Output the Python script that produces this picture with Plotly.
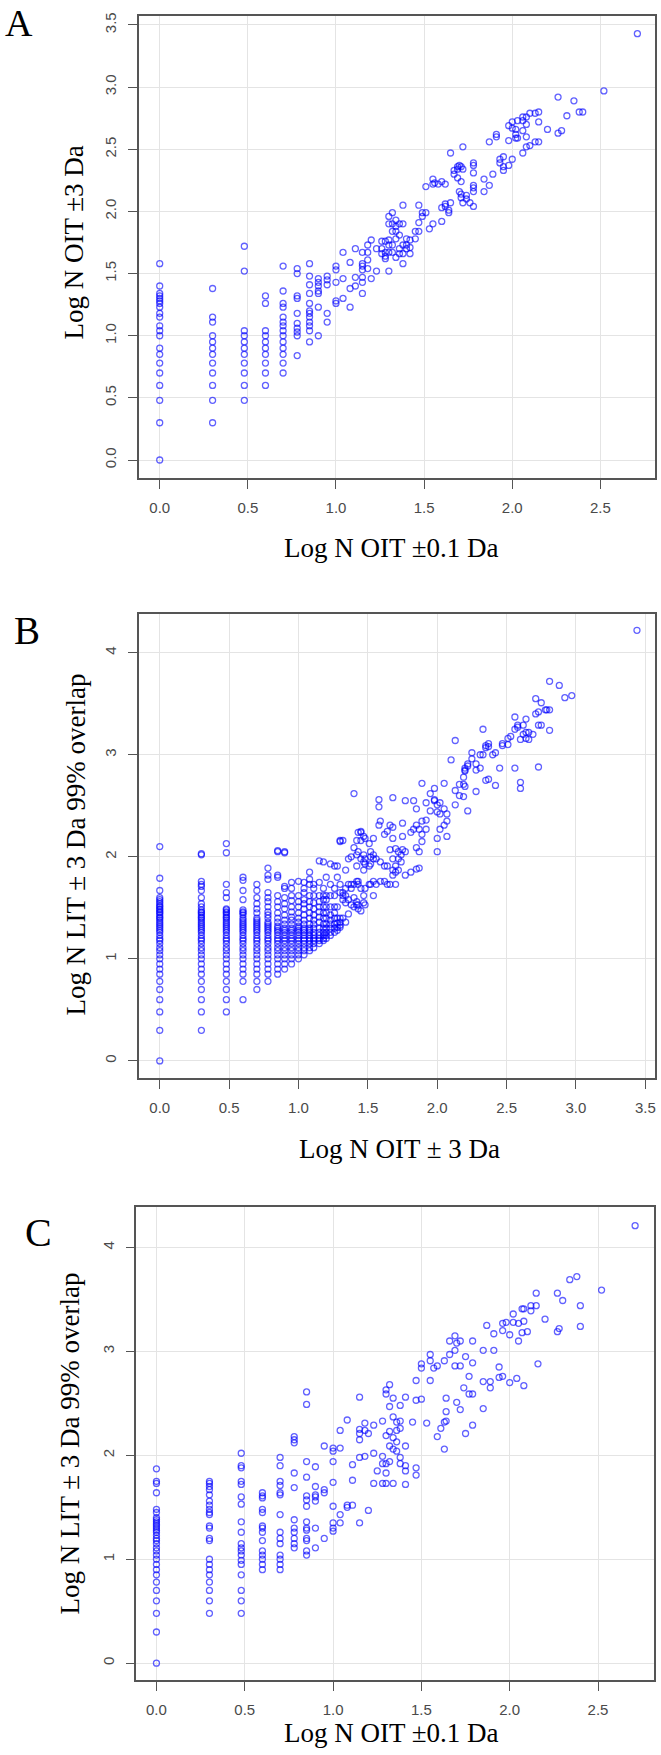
import plotly.graph_objects as go

# ---------------- Panel A data (Log N OIT ±0.1 Da vs Log N OIT ±3 Da) ----------------
A_col_x = [0.00, 0.30, 0.48, 0.60, 0.70, 0.78, 0.85, 0.90, 0.95, 1.00]
A_col_y = [
    [0, 0.30, 0.48, 0.60, 0.70, 0.78, 0.85, 0.90, 1.0, 1.04, 1.08, 1.15, 1.18, 1.23, 1.26, 1.28, 1.30, 1.32, 1.34, 1.40, 1.58],
    [0.30, 0.48, 0.60, 0.70, 0.78, 0.85, 0.90, 0.95, 1.0, 1.11, 1.15, 1.38],
    [0.48, 0.60, 0.70, 0.78, 0.85, 0.90, 0.95, 1.0, 1.04, 1.52, 1.72],
    [0.60, 0.70, 0.78, 0.85, 0.90, 0.95, 1.0, 1.04, 1.26, 1.32],
    [0.70, 0.78, 0.85, 0.90, 0.95, 1.0, 1.04, 1.08, 1.11, 1.15, 1.23, 1.26, 1.36, 1.56],
    [0.84, 1.0, 1.03, 1.06, 1.10, 1.18, 1.30, 1.32, 1.50, 1.54],
    [0.95, 1.04, 1.08, 1.11, 1.15, 1.18, 1.20, 1.26, 1.34, 1.41, 1.48, 1.58],
    [1.0, 1.23, 1.34, 1.36, 1.40, 1.43, 1.46],
    [1.11, 1.18, 1.41, 1.45, 1.48],
    [1.26, 1.28, 1.43, 1.53, 1.56],
]
A_pts = [
    (1.04, 1.67), (1.04, 1.46), (1.04, 1.30),
    (1.08, 1.59), (1.08, 1.38), (1.08, 1.23),
    (1.11, 1.70), (1.11, 1.47), (1.11, 1.40),
    (1.15, 1.67), (1.15, 1.58), (1.15, 1.56), (1.15, 1.53), (1.15, 1.47), (1.15, 1.43), (1.15, 1.34),
    (1.18, 1.73), (1.18, 1.67), (1.18, 1.61), (1.18, 1.54),
    (1.20, 1.77), (1.20, 1.46),
    (1.23, 1.70), (1.23, 1.52),
    (1.26, 1.76), (1.26, 1.70), (1.26, 1.66),
    (1.28, 1.76), (1.28, 1.67), (1.28, 1.64), (1.28, 1.62),
    (1.30, 1.96), (1.30, 1.90), (1.30, 1.77), (1.30, 1.73), (1.30, 1.67), (1.30, 1.52),
    (1.32, 1.99), (1.32, 1.90), (1.32, 1.84), (1.32, 1.73), (1.32, 1.67),
    (1.34, 1.93), (1.34, 1.88), (1.34, 1.84), (1.34, 1.78), (1.34, 1.63),
    (1.36, 1.90), (1.36, 1.81), (1.36, 1.70), (1.36, 1.66),
    (1.38, 2.05), (1.38, 1.90), (1.38, 1.73), (1.38, 1.66), (1.38, 1.58),
    (1.40, 1.78), (1.40, 1.73), (1.40, 1.70),
    (1.42, 1.77), (1.42, 1.71), (1.42, 1.66),
    (1.45, 1.84), (1.45, 1.78),
    (1.47, 2.05), (1.47, 1.91), (1.47, 1.84),
    (1.49, 1.99), (1.49, 1.96),
    (1.51, 2.20), (1.51, 1.99),
    (1.53, 1.86),
    (1.55, 2.26), (1.55, 2.22), (1.55, 1.90),
    (1.56, 2.23),
    (1.58, 2.22),
    (1.60, 2.24), (1.60, 2.03), (1.60, 1.92),
    (1.62, 2.22), (1.62, 2.06), (1.62, 2.04),
    (1.64, 2.01), (1.64, 1.99),
    (1.65, 2.47), (1.65, 2.07),
    (1.67, 2.30), (1.67, 2.33),
    (1.69, 2.34), (1.69, 2.36), (1.69, 2.27),
    (1.70, 2.37), (1.70, 2.16),
    (1.71, 2.36), (1.71, 2.24), (1.71, 2.14), (1.71, 2.11),
    (1.72, 2.52), (1.72, 2.34), (1.72, 2.07),
    (1.74, 2.13), (1.74, 2.10),
    (1.76, 2.07),
    (1.78, 2.37), (1.78, 2.39), (1.78, 2.31), (1.78, 2.21), (1.78, 2.19), (1.78, 2.16), (1.78, 2.04),
    (1.84, 2.26), (1.84, 2.16),
    (1.87, 2.56), (1.87, 2.21),
    (1.89, 2.30),
    (1.91, 2.62), (1.91, 2.60),
    (1.93, 2.42), (1.93, 2.39),
    (1.95, 2.44), (1.95, 2.36), (1.95, 2.33),
    (1.98, 2.69), (1.98, 2.57), (1.98, 2.37),
    (2.00, 2.72), (2.00, 2.67), (2.00, 2.42),
    (2.02, 2.66), (2.02, 2.62), (2.02, 2.59),
    (2.03, 2.73), (2.03, 2.59),
    (2.06, 2.76), (2.06, 2.73), (2.06, 2.65), (2.06, 2.47),
    (2.08, 2.76), (2.08, 2.70), (2.08, 2.60), (2.08, 2.52),
    (2.10, 2.79), (2.10, 2.53),
    (2.13, 2.79), (2.13, 2.56),
    (2.15, 2.80), (2.15, 2.72), (2.15, 2.56),
    (2.20, 2.66),
    (2.26, 2.92), (2.26, 2.63),
    (2.28, 2.65),
    (2.31, 2.77),
    (2.35, 2.89),
    (2.38, 2.80),
    (2.40, 2.80),
    (2.52, 2.97),
    (2.71, 3.43),
]

# ---------------- Panel B data (Log N OIT ± 3 Da vs Log N LIT ± 3 Da 99% overlap) ----------------
B_col_x = [0.00, 0.30, 0.48, 0.60, 0.70, 0.78, 0.85, 0.90, 0.95, 1.00, 1.04, 1.08, 1.11,
           1.15, 1.18, 1.20, 1.23, 1.26, 1.28]
B_col_y = [
    [0, 0.30, 0.48, 0.60, 0.70, 0.78, 0.85, 0.90, 0.95, 1.0, 1.04, 1.08, 1.11, 1.15, 1.18, 1.20, 1.23, 1.26, 1.28, 1.30, 1.32, 1.34, 1.36, 1.38, 1.40, 1.41, 1.43, 1.45, 1.46, 1.48, 1.49, 1.51, 1.52, 1.54, 1.56, 1.58, 1.60, 1.67, 1.79, 2.10],
    [0.30, 0.48, 0.60, 0.70, 0.78, 0.85, 0.90, 0.95, 1.0, 1.04, 1.08, 1.11, 1.15, 1.18, 1.20, 1.23, 1.26, 1.28, 1.30, 1.32, 1.34, 1.36, 1.38, 1.40, 1.41, 1.43, 1.45, 1.46, 1.48, 1.51, 1.54, 1.60, 1.67, 1.71, 1.73, 1.76, 2.02, 2.03],
    [0.48, 0.60, 0.70, 0.78, 0.85, 0.90, 0.95, 1.0, 1.04, 1.08, 1.11, 1.15, 1.18, 1.20, 1.23, 1.26, 1.28, 1.30, 1.32, 1.34, 1.36, 1.38, 1.40, 1.41, 1.43, 1.45, 1.46, 1.48, 1.49, 1.60, 1.65, 1.73, 2.04, 2.13],
    [0.60, 0.78, 0.85, 0.90, 0.95, 1.0, 1.04, 1.08, 1.11, 1.15, 1.18, 1.20, 1.23, 1.26, 1.28, 1.30, 1.32, 1.34, 1.36, 1.38, 1.40, 1.43, 1.45, 1.46, 1.48, 1.58, 1.67, 1.77, 1.80],
    [0.70, 0.78, 0.85, 0.90, 0.95, 1.0, 1.04, 1.08, 1.11, 1.15, 1.18, 1.20, 1.23, 1.26, 1.28, 1.30, 1.32, 1.34, 1.36, 1.38, 1.40, 1.45, 1.49, 1.54, 1.60, 1.67, 1.73],
    [0.78, 0.85, 0.90, 0.95, 1.0, 1.04, 1.08, 1.11, 1.15, 1.18, 1.20, 1.23, 1.26, 1.28, 1.30, 1.32, 1.34, 1.36, 1.40, 1.43, 1.46, 1.51, 1.56, 1.60, 1.65, 1.78, 1.82, 1.89],
    [0.85, 0.90, 0.95, 1.0, 1.04, 1.08, 1.11, 1.15, 1.18, 1.20, 1.23, 1.26, 1.28, 1.30, 1.32, 1.36, 1.40, 1.45, 1.51, 1.56, 1.62, 1.80, 1.82, 2.05, 2.06],
    [0.90, 0.95, 1.0, 1.04, 1.08, 1.11, 1.15, 1.18, 1.20, 1.23, 1.26, 1.28, 1.30, 1.34, 1.38, 1.43, 1.49, 1.54, 1.60, 1.69, 1.71, 2.04, 2.05],
    [0.95, 1.0, 1.04, 1.08, 1.11, 1.15, 1.18, 1.20, 1.23, 1.26, 1.28, 1.30, 1.34, 1.38, 1.41, 1.46, 1.51, 1.57, 1.62, 1.69, 1.75],
    [1.0, 1.04, 1.08, 1.11, 1.15, 1.18, 1.20, 1.23, 1.26, 1.28, 1.30, 1.32, 1.36, 1.40, 1.45, 1.51, 1.56, 1.62, 1.76],
    [1.04, 1.08, 1.11, 1.15, 1.18, 1.20, 1.23, 1.26, 1.28, 1.30, 1.34, 1.38, 1.43, 1.49, 1.54, 1.58, 1.65, 1.69, 1.75],
    [1.08, 1.11, 1.15, 1.18, 1.20, 1.23, 1.26, 1.28, 1.30, 1.34, 1.40, 1.45, 1.51, 1.56, 1.62, 1.73, 1.78, 1.85],
    [1.11, 1.15, 1.18, 1.20, 1.23, 1.26, 1.30, 1.34, 1.38, 1.43, 1.49, 1.55, 1.62, 1.69, 1.73],
    [1.15, 1.18, 1.20, 1.23, 1.26, 1.30, 1.36, 1.41, 1.46, 1.51, 1.56, 1.62, 1.75, 1.96],
    [1.18, 1.20, 1.23, 1.26, 1.30, 1.34, 1.40, 1.45, 1.51, 1.58, 1.62, 1.69, 1.95],
    [1.20, 1.23, 1.26, 1.30, 1.34, 1.40, 1.45, 1.51, 1.58, 1.62, 1.80],
    [1.23, 1.26, 1.30, 1.34, 1.38, 1.43, 1.51, 1.62, 1.73, 1.93],
    [1.26, 1.30, 1.34, 1.40, 1.45, 1.51, 1.62, 1.69, 1.91],
    [1.28, 1.31, 1.35, 1.40, 1.51, 1.80, 1.91],
]
B_pts = [
    (1.30, 1.31), (1.30, 1.33), (1.30, 1.36), (1.30, 1.40), (1.30, 1.65), (1.30, 1.73), (1.30, 2.15), (1.30, 2.16),
    (1.32, 1.40), (1.32, 1.58), (1.32, 1.62), (1.32, 1.65), (1.32, 2.16),
    (1.34, 1.36), (1.34, 1.55), (1.34, 1.62), (1.34, 1.69), (1.34, 1.87),
    (1.36, 1.44), (1.36, 1.58), (1.36, 1.73), (1.36, 1.98),
    (1.38, 1.53), (1.38, 1.69), (1.38, 1.73), (1.38, 2.00),
    (1.40, 1.51), (1.40, 1.60), (1.40, 1.73), (1.40, 2.09), (1.40, 2.62),
    (1.42, 1.53), (1.42, 1.56), (1.42, 1.76), (1.42, 1.91), (1.42, 2.02), (1.42, 2.16),
    (1.43, 1.49), (1.43, 1.53), (1.43, 1.73), (1.43, 1.76), (1.43, 2.05), (1.43, 2.24),
    (1.45, 1.47), (1.45, 1.69), (1.45, 1.98), (1.45, 2.16), (1.45, 2.24), (1.45, 2.25),
    (1.47, 1.55), (1.47, 1.62), (1.47, 1.87), (1.47, 1.95), (1.47, 2.02), (1.47, 2.20),
    (1.48, 1.53), (1.48, 1.69), (1.48, 1.93), (1.48, 1.98), (1.48, 2.18),
    (1.51, 1.73), (1.51, 1.91), (1.51, 2.13),
    (1.52, 1.73), (1.52, 1.93), (1.52, 2.00), (1.52, 2.05),
    (1.54, 1.62), (1.54, 1.76), (1.54, 1.98), (1.54, 2.02), (1.54, 2.18),
    (1.56, 1.73), (1.56, 1.98),
    (1.58, 2.31), (1.58, 2.49), (1.58, 2.56),
    (1.59, 1.76), (1.59, 1.95), (1.59, 2.35),
    (1.62, 1.76), (1.62, 1.91), (1.62, 2.22),
    (1.64, 1.73), (1.64, 1.91), (1.64, 2.25),
    (1.66, 1.73), (1.66, 2.07), (1.66, 2.31),
    (1.68, 1.82), (1.68, 1.87), (1.68, 1.98), (1.68, 2.18), (1.68, 2.29), (1.68, 2.58),
    (1.70, 1.73), (1.70, 1.85), (1.70, 1.91), (1.70, 2.08),
    (1.72, 1.87), (1.72, 1.98), (1.72, 2.05),
    (1.74, 1.95), (1.74, 2.02),
    (1.75, 2.07), (1.75, 2.20), (1.75, 2.33),
    (1.77, 1.82), (1.77, 2.05), (1.77, 2.55),
    (1.81, 1.85), (1.81, 2.24),
    (1.83, 2.27), (1.83, 2.55),
    (1.85, 1.88), (1.85, 2.09), (1.85, 2.31), (1.85, 2.47),
    (1.87, 1.89), (1.87, 2.05), (1.87, 2.27),
    (1.89, 2.15), (1.89, 2.22), (1.89, 2.35), (1.89, 2.72),
    (1.92, 2.27), (1.92, 2.36), (1.92, 2.53),
    (1.95, 2.45), (1.95, 2.62),
    (1.98, 2.55), (1.98, 2.56), (1.98, 2.67),
    (2.00, 2.05), (2.00, 2.18), (2.00, 2.44), (2.00, 2.51),
    (2.02, 2.27), (2.02, 2.42), (2.02, 2.53),
    (2.05, 2.31), (2.05, 2.47), (2.05, 2.72),
    (2.07, 2.20), (2.07, 2.35), (2.07, 2.42),
    (2.10, 2.95),
    (2.13, 2.51), (2.13, 2.65), (2.13, 3.14),
    (2.16, 2.60), (2.16, 2.71),
    (2.19, 2.59), (2.19, 2.71), (2.19, 2.78),
    (2.20, 2.69), (2.20, 2.84), (2.20, 2.85), (2.20, 2.87),
    (2.22, 2.45), (2.22, 2.89), (2.22, 2.91),
    (2.25, 2.96), (2.25, 3.02),
    (2.28, 2.64), (2.28, 2.85), (2.28, 2.91),
    (2.31, 2.87), (2.31, 3.00),
    (2.33, 3.00), (2.33, 3.25),
    (2.35, 2.75), (2.35, 3.07), (2.35, 3.09),
    (2.37, 2.76), (2.37, 3.08), (2.37, 3.11),
    (2.40, 3.00),
    (2.42, 2.70), (2.42, 3.02),
    (2.45, 2.87),
    (2.47, 3.09), (2.47, 3.11),
    (2.51, 3.10), (2.51, 3.16),
    (2.53, 3.18),
    (2.56, 2.87), (2.56, 3.25), (2.56, 3.37),
    (2.58, 3.27), (2.58, 3.29),
    (2.60, 2.67), (2.60, 2.73), (2.60, 3.15),
    (2.62, 3.20), (2.62, 3.29),
    (2.64, 3.16), (2.64, 3.22), (2.64, 3.35),
    (2.66, 3.15), (2.66, 3.22),
    (2.69, 3.20),
    (2.71, 3.40), (2.71, 3.55),
    (2.73, 2.88), (2.73, 3.29), (2.73, 3.42),
    (2.75, 3.29), (2.75, 3.51),
    (2.78, 3.44), (2.79, 3.44),
    (2.81, 3.24), (2.81, 3.44), (2.81, 3.72),
    (2.88, 3.68),
    (2.92, 3.56),
    (2.97, 3.58),
    (3.44, 4.22),
]

# ---------------- Panel C data (Log N OIT ±0.1 Da vs Log N LIT ± 3 Da 99% overlap) ----------------
C_col_x = [0.00, 0.30, 0.48, 0.60, 0.70, 0.78, 0.85, 0.90, 0.95, 1.00]
C_col_y = [
    [0, 0.30, 0.48, 0.60, 0.70, 0.78, 0.85, 0.90, 0.95, 1.0, 1.04, 1.08, 1.11, 1.15, 1.18, 1.20, 1.23, 1.26, 1.28, 1.30, 1.32, 1.34, 1.36, 1.38, 1.40, 1.45, 1.48, 1.64, 1.73, 1.75, 1.87],
    [0.48, 0.60, 0.70, 0.78, 0.85, 0.90, 0.95, 1.0, 1.18, 1.20, 1.30, 1.32, 1.43, 1.45, 1.48, 1.52, 1.56, 1.62, 1.67, 1.70, 1.73, 1.75],
    [0.48, 0.60, 0.70, 0.85, 0.95, 0.99, 1.04, 1.08, 1.11, 1.15, 1.26, 1.36, 1.53, 1.60, 1.72, 1.75, 1.88, 1.90, 2.02],
    [0.90, 0.95, 1.0, 1.04, 1.08, 1.18, 1.26, 1.30, 1.32, 1.45, 1.48, 1.59, 1.61, 1.64],
    [0.90, 0.95, 1.0, 1.04, 1.15, 1.20, 1.26, 1.43, 1.62, 1.64, 1.71, 1.75, 1.90, 1.98],
    [1.11, 1.15, 1.20, 1.26, 1.30, 1.38, 1.69, 1.83, 2.12, 2.15, 2.18],
    [1.04, 1.08, 1.18, 1.20, 1.28, 1.30, 1.36, 1.51, 1.57, 1.61, 1.79, 1.94, 2.49, 2.61],
    [1.11, 1.30, 1.56, 1.60, 1.62, 1.70, 1.89],
    [1.20, 1.64, 1.67, 2.09],
    [1.27, 1.30, 1.35, 1.51, 1.74, 1.94, 2.04, 2.07],
]
C_pts = [
    (1.04, 2.24), (1.04, 2.07), (1.04, 1.43), (1.04, 1.35),
    (1.08, 2.34), (1.08, 1.52), (1.08, 1.50),
    (1.11, 1.91), (1.11, 1.76), (1.11, 1.52),
    (1.15, 2.56), (1.15, 2.25), (1.15, 2.21), (1.15, 2.15), (1.15, 1.98), (1.15, 1.35),
    (1.18, 2.31), (1.18, 2.24), (1.18, 1.99),
    (1.20, 2.21), (1.20, 1.47),
    (1.23, 2.29), (1.23, 2.02), (1.23, 1.73),
    (1.25, 1.85),
    (1.28, 2.33), (1.28, 1.99), (1.28, 1.92), (1.28, 1.73),
    (1.30, 2.63), (1.30, 2.59), (1.30, 2.19), (1.30, 1.92), (1.30, 1.83), (1.30, 1.73),
    (1.32, 2.68), (1.32, 2.47), (1.32, 2.23), (1.32, 2.09), (1.32, 1.94),
    (1.34, 2.55), (1.34, 2.37), (1.34, 2.17), (1.34, 2.06), (1.34, 1.73),
    (1.36, 2.32), (1.36, 2.24), (1.36, 2.13), (1.36, 2.04),
    (1.38, 2.48), (1.38, 2.33), (1.38, 2.26), (1.38, 1.98), (1.38, 1.92),
    (1.41, 2.56), (1.41, 2.09), (1.41, 1.90), (1.41, 1.85), (1.41, 1.72),
    (1.45, 2.32),
    (1.47, 2.72), (1.47, 2.53), (1.47, 1.88), (1.47, 1.81),
    (1.50, 2.88), (1.50, 2.84), (1.50, 2.54),
    (1.53, 2.31),
    (1.55, 2.97), (1.55, 2.91), (1.55, 2.72),
    (1.57, 2.84),
    (1.59, 2.86), (1.59, 2.18),
    (1.61, 2.26),
    (1.63, 2.91), (1.63, 2.32), (1.63, 2.06),
    (1.64, 2.55), (1.64, 2.42), (1.64, 2.33),
    (1.66, 3.10), (1.66, 2.97),
    (1.69, 3.15), (1.69, 3.01), (1.69, 2.86),
    (1.70, 3.08), (1.70, 2.51),
    (1.72, 3.10), (1.72, 2.86), (1.72, 2.44),
    (1.74, 2.65),
    (1.75, 2.95), (1.75, 2.21),
    (1.77, 2.76), (1.77, 2.59),
    (1.79, 3.10), (1.79, 2.89), (1.79, 2.59), (1.79, 2.29),
    (1.85, 3.01), (1.85, 2.71), (1.85, 2.45),
    (1.87, 3.25),
    (1.89, 2.71), (1.89, 2.65),
    (1.91, 3.17), (1.91, 3.01),
    (1.94, 2.85), (1.94, 2.75),
    (1.96, 3.27), (1.96, 3.20), (1.96, 2.76),
    (1.98, 3.28),
    (2.00, 3.16), (2.00, 2.70),
    (2.02, 3.36), (2.02, 3.28),
    (2.04, 2.74),
    (2.05, 3.27), (2.05, 3.10),
    (2.07, 3.41), (2.07, 3.18),
    (2.08, 3.41), (2.08, 3.29), (2.08, 2.67),
    (2.10, 3.19),
    (2.12, 3.44), (2.12, 3.39),
    (2.15, 3.56), (2.15, 3.44),
    (2.16, 2.88),
    (2.20, 3.31),
    (2.27, 3.56), (2.27, 3.19),
    (2.28, 3.22),
    (2.30, 3.49),
    (2.34, 3.69),
    (2.38, 3.72),
    (2.40, 3.44), (2.40, 3.24),
    (2.52, 3.59),
    (2.71, 4.21),
]

# ---------------- Tick values / labels ----------------
A_xticks = [0.0, 0.5, 1.0, 1.5, 2.0, 2.5]
A_xlabels = ["0.0", "0.5", "1.0", "1.5", "2.0", "2.5"]
A_yticks = [0.0, 0.5, 1.0, 1.5, 2.0, 2.5, 3.0, 3.5]
A_ylabels = ["0.0", "0.5", "1.0", "1.5", "2.0", "2.5", "3.0", "3.5"]
B_xticks = [0.0, 0.5, 1.0, 1.5, 2.0, 2.5, 3.0, 3.5]
B_xlabels = ["0.0", "0.5", "1.0", "1.5", "2.0", "2.5", "3.0", "3.5"]
B_yticks = [0, 1, 2, 3, 4]
B_ylabels = ["0", "1", "2", "3", "4"]
C_xticks = [0.0, 0.5, 1.0, 1.5, 2.0, 2.5]
C_xlabels = ["0.0", "0.5", "1.0", "1.5", "2.0", "2.5"]
C_yticks = [0, 1, 2, 3, 4]
C_ylabels = ["0", "1", "2", "3", "4"]

W, H = 661, 1755


def flatten(col_x, col_y, pts):
    xs, ys = [], []
    for cx, cys in zip(col_x, col_y):
        for cy in cys:
            xs.append(cx)
            ys.append(cy)
    for px_, py_ in pts:
        xs.append(px_)
        ys.append(py_)
    return xs, ys


def fx(px):
    return px / W


def fy(py):
    return 1 - py / H


MARKER = dict(symbol="circle-open", size=6, color="rgba(0,0,255,0.62)", line=dict(width=1.3))

fig = go.Figure()
panels = [
    (A_col_x, A_col_y, A_pts, "x", "y"),
    (B_col_x, B_col_y, B_pts, "x2", "y2"),
    (C_col_x, C_col_y, C_pts, "x3", "y3"),
]
for cx, cy, pts, xa, ya in panels:
    xs, ys = flatten(cx, cy, pts)
    fig.add_trace(go.Scatter(x=xs, y=ys, mode="markers", marker=MARKER,
                             xaxis=xa, yaxis=ya, hoverinfo="skip", showlegend=False))

tickfont = dict(family="Liberation Sans, Arial, sans-serif", size=15, color="#4a4a4a")
common = dict(showline=True, mirror=True, linecolor="#555555", linewidth=1.5,
              ticks="outside", ticklen=9, tickwidth=1.2, tickcolor="#555555",
              showgrid=True, gridcolor="#e4e4e4", gridwidth=1, zeroline=False,
              tickfont=tickfont, fixedrange=True)

# pixel boxes: (left, right, top, bottom)
boxA = (139.3, 656.0, 12.7, 475.6)
boxB = (139.3, 656.0, 612.0, 1077.0)
boxC = (136.7, 655.0, 1206.0, 1680.0)

def xdom(b):
    return [fx(b[0]), fx(b[1])]

def ydom(b):
    return [fy(b[3]), fy(b[2])]

fig.update_layout(
    width=W, height=H, margin=dict(l=0, r=0, t=0, b=0),
    paper_bgcolor="white", plot_bgcolor="white", showlegend=False,
    xaxis=dict(domain=xdom(boxA), anchor="y", range=[-0.117, 2.81],
               tickvals=A_xticks, ticktext=A_xlabels, ticklabelstandoff=6, **common),
    yaxis=dict(domain=ydom(boxA), anchor="x", range=[-0.143, 3.575],
               tickvals=A_yticks, ticktext=A_ylabels, tickangle=-90, ticklabelstandoff=6, **common),
    xaxis2=dict(domain=xdom(boxB), anchor="y2", range=[-0.149, 3.57],
                tickvals=B_xticks, ticktext=B_xlabels, ticklabelstandoff=6, **common),
    yaxis2=dict(domain=ydom(boxB), anchor="x2", range=[-0.169, 4.38],
                tickvals=B_yticks, ticktext=B_ylabels, tickangle=-90, ticklabelstandoff=6, **common),
    xaxis3=dict(domain=xdom(boxC), anchor="y3", range=[-0.113, 2.817],
                tickvals=C_xticks, ticktext=C_xlabels, ticklabelstandoff=6, **common),
    yaxis3=dict(domain=ydom(boxC), anchor="x3", range=[-0.163, 4.39],
                tickvals=C_yticks, ticktext=C_ylabels, tickangle=-90, ticklabelstandoff=6, **common),
)

serif = "Liberation Serif, Times New Roman, serif"
texts = [
    ("A", 19, 20, 38, 0),
    ("B", 27, 629, 39, 0),
    ("C", 39, 1232, 40, 0),
    ("Log N OIT \u00b10.1 Da", 392, 546, 27, 0),
    ("Log N OIT \u00b13 Da", 74, 240, 27, -90),
    ("Log N OIT \u00b1 3 Da", 400, 1148, 27, 0),
    ("Log N LIT \u00b1 3 Da 99% overlap", 76, 843, 27, -90),
    ("Log N OIT \u00b10.1 Da", 392, 1733, 27, 0),
    ("Log N LIT \u00b1 3 Da 99% overlap", 70, 1443, 27, -90),
]
for t, px, py, size, ang in texts:
    fig.add_annotation(text=t, x=fx(px), y=fy(py), xref="paper", yref="paper",
                       xanchor="center", yanchor="middle", showarrow=False,
                       textangle=ang, font=dict(family=serif, size=size, color="black"))

fig.write_html("out.html")
